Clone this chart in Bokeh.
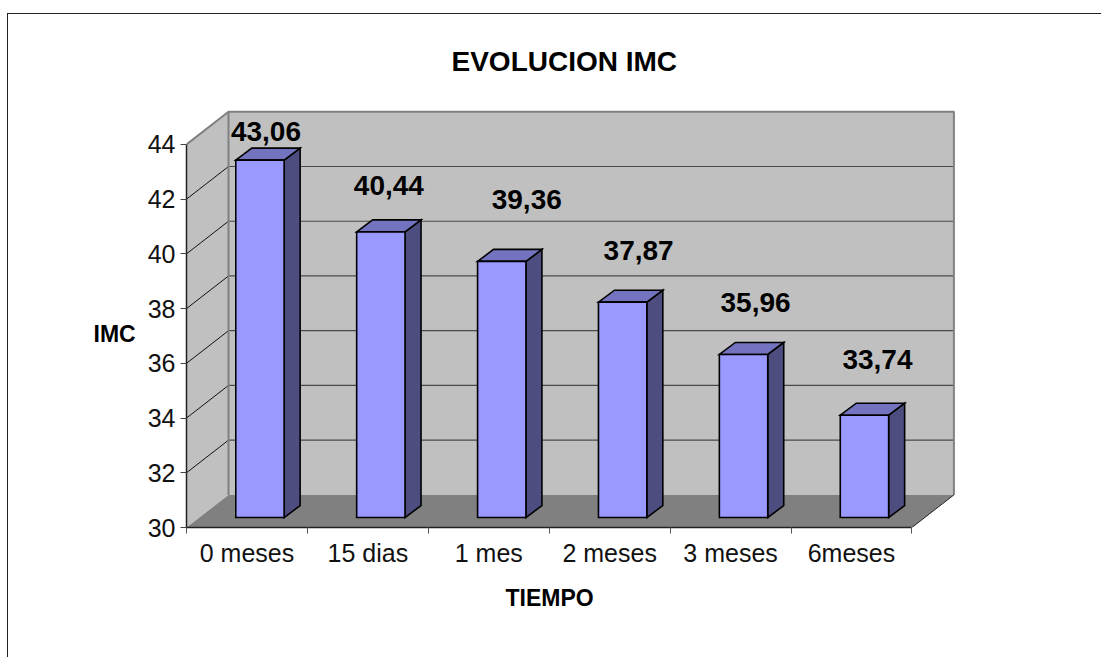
from bokeh.plotting import figure
from bokeh.models import Range1d, FixedTicker, ColumnDataSource, Title
from bokeh.core.properties import value
from bokeh.embed import file_html
from bokeh.resources import INLINE

CATEGORIES = ["0 meses", "15 dias", "1 mes", "2 meses", "3 meses", "6meses"]
IMC = [43.06, 40.44, 39.36, 37.87, 35.96, 33.74]
Y_TICKS = [30, 32, 34, 36, 38, 40, 42, 44]
LABELS = ["43,06", "40,44", "39,36", "37,87", "35,96", "33,74"]
LABEL_DX = [6, 8, 25, 16, 12, 13]
LABEL_DY = [-29, -46, -62, -52, -52, -56]

FONT = "Liberation Sans"
PX_X, PX_Y = 120.9, 27.43
WALL_DX, WALL_DY = 42 / PX_X, 32.7 / PX_Y
FRONT_DX, FRONT_DY = 13.0 / PX_X, 10 / PX_Y
BAR_DX, BAR_DY = 16 / PX_X, 12 / PX_Y
BAR_W = 0.4
Y0, Y1 = Y_TICKS[0], Y_TICKS[-1]
N = len(CATEGORIES)

p = figure(width=1094, height=644, output_backend="svg", toolbar_location=None,
           x_range=Range1d(0, 772 / PX_X), y_range=Range1d(Y0, Y0 + 419 / PX_Y),
           min_border_left=178, min_border_right=144, min_border_top=94, min_border_bottom=131,
           margin=(13, 0, 0, 7),
           styles={"border-top": "1.5px solid #222222", "border-left": "1.5px solid #222222"},
           title="EVOLUCION IMC", y_axis_label="\nIMC")
p.grid.visible = False
p.outline_line_color = None
p.background_fill_color = "white"
p.border_fill_color = "white"

p.title.align = "left"
p.title.offset = 265
p.title.vertical_align = "top"
p.title.standoff = 62
p.title.text_font = FONT
p.title.text_font_size = "28px"
p.title.text_font_style = "bold"
p.title.text_color = "black"

xa = p.xaxis[0]
xa.ticker = FixedTicker(ticks=[i + 0.5 for i in range(N)], minor_ticks=list(range(N + 1)))
xa.major_label_overrides = {i + 0.5: c for i, c in enumerate(CATEGORIES)}
xa.bounds = (0, N)
xa.major_tick_line_color = None
xa.minor_tick_line_color = "#555555"
xa.minor_tick_out = 6
xa.minor_tick_in = 0
xa.major_label_standoff = 5

ya = p.yaxis[0]
ya.ticker = FixedTicker(ticks=Y_TICKS)
ya.bounds = (Y0, Y1)
ya.minor_tick_line_color = None
ya.major_tick_line_color = "#444444"
ya.major_tick_out = 6
ya.major_tick_in = 0
ya.major_label_standoff = 5
ya.axis_label_orientation = "horizontal"
ya.axis_label_standoff = 9
ya.axis_label_text_font = FONT
ya.axis_label_text_font_size = "23px"
ya.axis_label_text_font_style = "bold"
ya.axis_label_text_color = "black"
ya.axis_label_text_line_height = 1.2

for a in (xa, ya):
    a.axis_line_color = "#222222"
    a.axis_line_width = 1.5
    a.major_label_text_font = FONT
    a.major_label_text_font_size = "25px"
    a.major_label_text_color = "#111111"

x_title = Title(text="TIEMPO", align="left", offset=319, standoff=26, text_font=FONT,
                text_font_size="23px", text_font_style="bold", text_color="black")
p.add_layout(x_title, "below")

# walls and floor
p.patch([0, WALL_DX, WALL_DX, 0], [Y0, Y0 + WALL_DY, Y1 + WALL_DY, Y1],
        fill_color="#C0C0C0", line_color=None)
p.patch([WALL_DX, N + WALL_DX, N + WALL_DX, WALL_DX], [Y0 + WALL_DY, Y0 + WALL_DY, Y1 + WALL_DY, Y1 + WALL_DY],
        fill_color="#C0C0C0", line_color=None)
p.patch([0, N, N + WALL_DX, WALL_DX], [Y0, Y0, Y0 + WALL_DY, Y0 + WALL_DY],
        fill_color="#808080", line_color=None)

inner = Y_TICKS[1:-1]
p.segment([WALL_DX] * len(inner), [t + WALL_DY for t in inner],
          [N + WALL_DX] * len(inner), [t + WALL_DY for t in inner],
          line_color="#4a4a4a", line_width=1.2)
p.segment([0] * len(inner), inner, [WALL_DX] * len(inner), [t + WALL_DY for t in inner],
          line_color="#111111", line_width=1)
p.line([0, WALL_DX, N + WALL_DX, N + WALL_DX],
       [Y1, Y1 + WALL_DY, Y1 + WALL_DY, Y0 + WALL_DY], line_color="#808080", line_width=2)
p.line([WALL_DX, WALL_DX], [Y0 + WALL_DY, Y1 + WALL_DY], line_color="#808080", line_width=2)
p.line([N, N + WALL_DX], [Y0, Y0 + WALL_DY], line_color="#222222", line_width=1)

# bars
lefts = [i + 0.3 + FRONT_DX for i in range(N)]
rights = [l + BAR_W for l in lefts]
base = Y0 + FRONT_DY
tops = [v + FRONT_DY for v in IMC]

p.patches([[r, r + BAR_DX, r + BAR_DX, r] for r in rights],
          [[base, base + BAR_DY, t + BAR_DY, t] for t in tops],
          fill_color="#4D4D80", line_color="black", line_width=1.6, line_join="miter")
p.patches([[l, r, r + BAR_DX, l + BAR_DX] for l, r in zip(lefts, rights)],
          [[t, t, t + BAR_DY, t + BAR_DY] for t in tops],
          fill_color="#7373BF", line_color="black", line_width=1.6, line_join="miter")
p.quad(left=lefts, right=rights, bottom=base, top=tops,
       fill_color="#9999FF", line_color="black", line_width=1.6, line_join="miter")

src = ColumnDataSource(dict(x=[(l + r) / 2 for l, r in zip(lefts, rights)], y=tops, t=LABELS,
                            dx=LABEL_DX, dy=LABEL_DY))
p.text(x="x", y="y", text="t", x_offset="dx", y_offset="dy", source=src,
       text_font=value(FONT), text_font_size="28px", text_font_style="bold", text_color="black",
       text_align="center", text_baseline="middle")

open("out.html", "w").write(file_html(p, INLINE))
